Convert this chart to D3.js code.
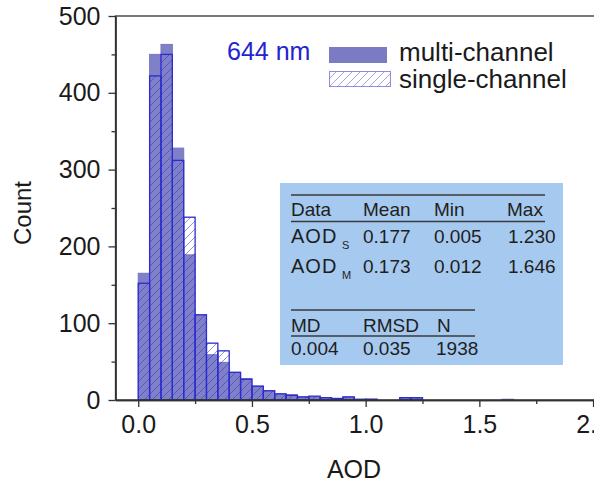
<!DOCTYPE html>
<html>
<head>
<meta charset="utf-8">
<script src="https://cdn.jsdelivr.net/npm/d3@7"></script>
<style>
  body { margin: 0; background: #fff; }
  svg { display: block; font-family: "Liberation Sans", Arial, sans-serif; }
  .axis path, .axis line { stroke: #333; stroke-width: 1.3; }
  .axis text { font-size: 25px; fill: #1a1a1a; font-family: "Liberation Sans", Arial, sans-serif; }
</style>
</head>
<body>
<svg id="chart" width="594" height="484"></svg>
<script>
// histogram counts, bins of 0.05 AOD starting at 0
var binWidth = 0.05;
var multiCounts = [165, 450, 463, 328, 189, 110, 59, 49, 36, 28, 18, 12, 8, 7, 4, 4, 3, 2, 4, 0, 1, 0, 0, 3, 2, 0, 0, 0, 0, 0, 0, 0, 1];
var singleCounts = [152, 422, 450, 312, 238, 111, 74, 64, 36, 27, 18, 12, 8, 6, 4, 5, 3, 2, 4, 1, 1, 0, 0, 3, 3];

var xTicks = [0, 0.5, 1.0, 1.5, 2.0];
var xMinor = [0.25, 0.75, 1.25, 1.75];
var yTicks = [0, 100, 200, 300, 400, 500];
var yMinor = [50, 150, 250, 350, 450];

var legendNames = ["multi-channel", "single-channel"];
var wavelength = "644 nm";

var tableHead = ["Data", "Mean", "Min", "Max"];
var tableRows = [["AOD", "S", "0.177", "0.005", "1.230"],
                 ["AOD", "M", "0.173", "0.012", "1.646"]];
var statsHead = ["MD", "RMSD", "N"];
var statsRow = ["0.004", "0.035", "1938"];

var svg = d3.select("#chart");

var x = d3.scaleLinear().domain([-0.1, 2.1]).range([115.5, 615.8]);
var y = d3.scaleLinear().domain([0, 500]).range([400, 16]);

// hatch patterns
var defs = svg.append("defs");
defs.append("pattern")
    .attr("id", "hatch")
    .attr("patternUnits", "userSpaceOnUse")
    .attr("width", 8).attr("height", 8)
    .append("path")
    .attr("d", "M-2,2 l4,-4 M0,8 l8,-8 M6,10 l4,-4")
    .attr("stroke", "rgba(55,55,190,0.55)")
    .attr("stroke-width", 1);
defs.append("pattern")
    .attr("id", "hatchLight")
    .attr("patternUnits", "userSpaceOnUse")
    .attr("width", 8).attr("height", 8)
    .append("path")
    .attr("d", "M-2,2 l4,-4 M0,8 l8,-8 M6,10 l4,-4")
    .attr("stroke", "#a4a4e4")
    .attr("stroke-width", 1);

// multi-channel bars (solid)
svg.append("g").selectAll("rect")
    .data(multiCounts)
    .join("rect")
    .attr("x", function(d, i) { return x(i * binWidth); })
    .attr("width", function(d, i) { return x((i + 1) * binWidth) - x(i * binWidth); })
    .attr("y", function(d) { return y(d); })
    .attr("height", function(d) { return y(0) - y(d); })
    .attr("fill", "#8080c8")
    .attr("stroke", "#7676c4")
    .attr("stroke-width", 1)
    .attr("display", function(d) { return d > 0 ? null : "none"; });

// single-channel bars (hatched, outlined)
svg.append("g").selectAll("rect")
    .data(singleCounts)
    .join("rect")
    .attr("x", function(d, i) { return x(i * binWidth); })
    .attr("width", function(d, i) { return x((i + 1) * binWidth) - x(i * binWidth); })
    .attr("y", function(d) { return y(d); })
    .attr("height", function(d) { return y(0) - y(d); })
    .attr("fill", "url(#hatch)")
    .attr("stroke", "#2b2bd2")
    .attr("stroke-width", 1.3)
    .attr("display", function(d) { return d > 0 ? null : "none"; });

// frame
svg.append("rect")
    .attr("x", x.range()[0]).attr("y", y.range()[1])
    .attr("width", x.range()[1] - x.range()[0])
    .attr("height", y.range()[0] - y.range()[1])
    .attr("fill", "none")
    .attr("stroke", "#333")
    .attr("stroke-width", 1.3);

// axes
svg.append("g").attr("class", "axis")
    .attr("transform", "translate(0,400)")
    .call(d3.axisBottom(x).tickValues(xTicks).tickFormat(d3.format(".1f")).tickSize(7).tickPadding(8).tickSizeOuter(0));
svg.append("g").attr("class", "axis")
    .attr("transform", "translate(0,400)")
    .call(d3.axisBottom(x).tickValues(xMinor).tickFormat("").tickSize(4).tickSizeOuter(0));
svg.append("g").attr("class", "axis")
    .attr("transform", "translate(" + x.range()[0] + ",0)")
    .call(d3.axisLeft(y).tickValues(yTicks).tickSize(7).tickPadding(8).tickSizeOuter(0));
svg.append("g").attr("class", "axis")
    .attr("transform", "translate(" + x.range()[0] + ",0)")
    .call(d3.axisLeft(y).tickValues(yMinor).tickFormat("").tickSize(4).tickSizeOuter(0));

// axis titles
svg.append("text")
    .attr("transform", "translate(31,213) rotate(-90)")
    .attr("text-anchor", "middle")
    .attr("font-size", 24)
    .attr("fill", "#1a1a1a")
    .text("Count");
svg.append("text")
    .attr("x", 354).attr("y", 478)
    .attr("text-anchor", "middle")
    .attr("font-size", 25)
    .attr("fill", "#1a1a1a")
    .text("AOD");

// legend
svg.append("text")
    .attr("x", 227).attr("y", 60)
    .attr("font-size", 25)
    .attr("fill", "#2323d0")
    .text(wavelength);
svg.append("rect")
    .attr("x", 329).attr("y", 47).attr("width", 58).attr("height", 16)
    .attr("fill", "#7b7bc4");
svg.append("rect")
    .attr("x", 329.5).attr("y", 71.5).attr("width", 61).attr("height", 15)
    .attr("fill", "url(#hatchLight)")
    .attr("stroke", "#8c8ce0")
    .attr("stroke-width", 1);
svg.selectAll("text.leg")
    .data(legendNames)
    .join("text")
    .attr("class", "leg")
    .attr("x", 399)
    .attr("y", function(d, i) { return 61 + i * 27; })
    .attr("font-size", 26)
    .attr("fill", "#1a1a1a")
    .text(function(d) { return d; });

// statistics table
var tbl = svg.append("g");
tbl.append("rect")
    .attr("x", 280).attr("y", 183).attr("width", 283).attr("height", 182)
    .attr("fill", "#a6c9ef");
var colX = [291, 363, 434, 507];
var lineY = [[195, 291, 545], [221.5, 291, 545], [310, 291, 475], [336, 291, 475]];
tbl.selectAll("line")
    .data(lineY)
    .join("line")
    .attr("x1", function(d) { return d[1]; })
    .attr("x2", function(d) { return d[2]; })
    .attr("y1", function(d) { return d[0]; })
    .attr("y2", function(d) { return d[0]; })
    .attr("stroke", "#3a3a3a")
    .attr("stroke-width", 1.3);

function cellText(str, cx, cy) {
    return tbl.append("text")
        .attr("x", cx).attr("y", cy)
        .attr("font-size", 19)
        .attr("fill", "#1e1e1e")
        .text(str);
}
tableHead.forEach(function(h, i) { cellText(h, colX[i], 216); });
tableRows.forEach(function(r, j) {
    var cy = 243 + j * 30;
    cellText(r[0], colX[0], cy).attr("font-size", 20).attr("letter-spacing", 1);
    tbl.append("text")
        .attr("x", colX[0] + 51).attr("y", cy + 6)
        .attr("font-size", 11)
        .attr("fill", "#1e1e1e")
        .text(r[1]);
    cellText(r[2], colX[1], cy);
    cellText(r[3], colX[2], cy);
    cellText(r[4], colX[3] + 1, cy);
});
statsHead.forEach(function(h, i) { cellText(h, colX[i] + (i === 2 ? 3 : 0), 332); });
statsRow.forEach(function(v, i) { cellText(v, colX[i] + (i === 2 ? 2 : 0), 355); });
</script>
</body>
</html>
